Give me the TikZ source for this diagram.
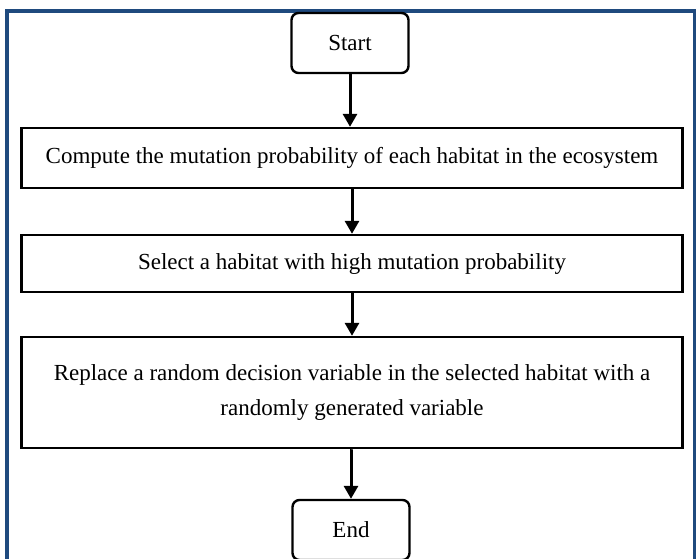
\documentclass[tikz,border=0pt]{standalone}
\usepackage{fontspec}
\setmainfont{Liberation Serif}
\usetikzlibrary{arrows.meta}
\definecolor{framecol}{RGB}{31,74,126}
\begin{document}
\begin{tikzpicture}[x=1pt,y=-1pt,
  every node/.style={font=\fontsize{23}{35}\selectfont},
  box/.style={draw,line width=2.4pt,minimum width=661pt,align=center},
  term/.style={draw,line width=2.4pt,rounded corners=7pt,minimum width=117pt,minimum height=60pt},
  flow/.style={line width=3pt,-{Triangle[length=13pt,width=14pt]}}]
\clip (0,0) rectangle (696,558);
\fill[white] (0,0) rectangle (696,558);
\draw[framecol,line width=4pt] (7,570) -- (7,10.5) -- (694.5,10.5) -- (694.5,570);
\node[term] (start) at (350,43) {Start};
\node[box,minimum height=60pt] (compute) at (352,158) {Compute the mutation probability of each habitat in the ecosystem};
\node[box,minimum height=57pt] (select) at (352,263.5) {Select a habitat with high mutation probability};
\node[box,minimum height=111pt] (replace) at (352,392.5) {Replace a random decision variable in the selected habitat with a\\randomly generated variable};
\node[term] (stop) at (351,530) {End};
\draw[flow] (start) -- (start|-compute.north);
\draw[flow] (compute) -- (select);
\draw[flow] (select) -- (replace);
\draw[flow] (replace) -- (replace.south-|stop) -- (stop);
\end{tikzpicture}
\end{document}
